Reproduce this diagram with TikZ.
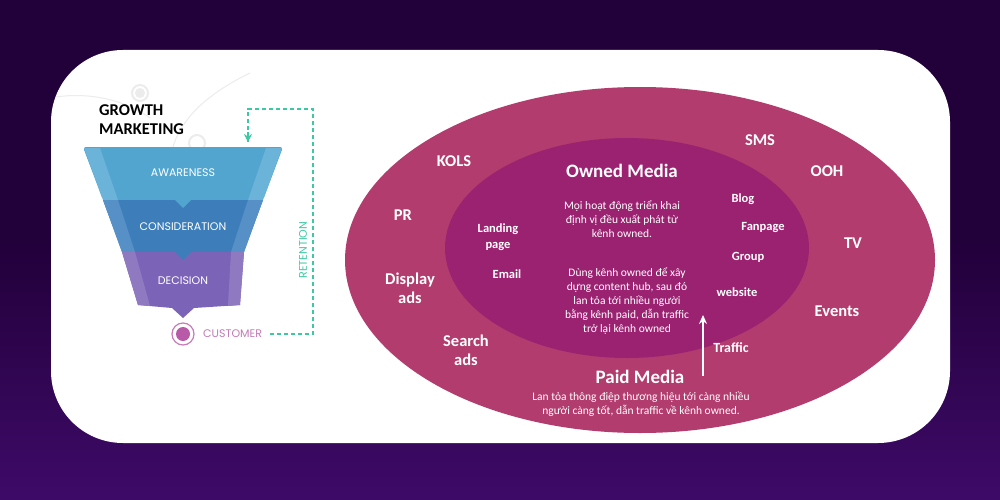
\documentclass[tikz,border=0pt]{standalone}
\usepackage{fontspec}
\setmainfont{Carlito}
\newfontfamily\pop{Poppins}
\usetikzlibrary{arrows.meta}
\definecolor{bgtop}{HTML}{22003A}
\definecolor{bgbot}{HTML}{3E0A68}
\definecolor{outerc}{HTML}{B23C6D}
\definecolor{innerc}{HTML}{9B2271}
\definecolor{awa}{HTML}{52A5CF}
\definecolor{awal}{HTML}{6BB3D9}
\definecolor{con}{HTML}{3D7EBA}
\definecolor{conl}{HTML}{5690C6}
\definecolor{dec}{HTML}{7B64B7}
\definecolor{decl}{HTML}{8F7AC1}
\definecolor{teal}{HTML}{3CC9A2}
\definecolor{cust}{HTML}{B95AA9}
\definecolor{custt}{HTML}{C27AB6}
\definecolor{deco}{HTML}{ECECEC}
\tikzset{
  lbl/.style={text=white, font=\bfseries\fontsize{16.5}{19}\selectfont, align=center, inner sep=0pt},
  ilbl/.style={text=white, font=\bfseries\fontsize{12.5}{16}\selectfont, align=center, inner sep=0pt},
  body/.style={text=white, font=\fontsize{11.5}{14}\selectfont, align=center, inner sep=0pt},
  title/.style={text=white, font=\bfseries\fontsize{19}{20}\selectfont, inner sep=0pt},
  fun/.style={text=white, font=\pop\fontsize{11}{12}\selectfont, inner sep=0pt},
  ret/.style={teal, line width=1.1pt, dash pattern=on 4pt off 3pt}
}
\begin{document}
\begin{tikzpicture}[x=1pt,y=-1pt]
\useasboundingbox (0,0) rectangle (1000,500);
\fill[bgtop] (0,0) rectangle (1000,500);
\shade[top color=bgtop, bottom color=bgbot] (0,240) rectangle (1000,500);
% card
\fill[white, rounded corners=72pt] (51,50) rectangle (950,443);
% decorative arcs
\draw[deco, line width=1pt] (250,73) .. controls (205,95) and (180,120) .. (172,150);
\draw[deco, line width=1pt] (56,97) .. controls (90,92) and (125,100) .. (150,118);
\draw[deco, line width=2pt] (140,93) circle[radius=8pt];
\fill[deco] (140,93) circle[radius=5pt];
\draw[deco, line width=2pt] (197,143) circle[radius=8pt];
% title
\node[font=\bfseries\fontsize{16.5}{19}\selectfont, text=black, anchor=west, align=left, inner sep=0pt] (gm) at (99,120) {GROWTH\\MARKETING};
% funnel
\fill[awa, rounded corners=3pt] (83,147) -- (283,147) -- (263,200) -- (103,200) -- cycle;
\fill[awal] (84,148) -- (100,148) -- (118,200) -- (103,200) -- cycle;
\fill[awal] (282,148) -- (266,148) -- (248,200) -- (263,200) -- cycle;
\fill[con] (103,200) -- (263,200) -- (244,252) -- (122,252) -- cycle;
\fill[conl] (103,200) -- (118,200) -- (135,252) -- (122,252) -- cycle;
\fill[conl] (263,200) -- (248,200) -- (231,252) -- (244,252) -- cycle;
\fill[awa] (174,199) -- (192,199) -- (183,208) -- cycle;
\fill[dec] (122,252) -- (244,252) -- (240,305) -- (194,308) -- (183,318) -- (172,308) -- (138,305) -- cycle;
\fill[decl] (122,252) -- (135,252) -- (150,306) -- (138,305) -- cycle;
\fill[decl] (244,252) -- (231,252) -- (228,306) -- (240,305) -- cycle;
\fill[con] (174,251) -- (192,251) -- (183,260) -- cycle;
\node[fun] (aw) at (183,173) {AWARENESS};
\node[fun] (co) at (183,227) {CONSIDERATION};
\node[fun] (de) at (183,281) {DECISION};
% customer
\draw[cust!80, line width=1.2pt] (183,334) circle[radius=11pt];
\fill[cust] (183,334) circle[radius=7pt];
\coordinate (cu) at (183,334);
\node[font=\pop\fontsize{11}{12}\selectfont, text=custt, anchor=west, inner sep=0pt] (custn) at (203,334) {CUSTOMER};
% retention loop
\coordinate (r1) at (313,334);
\coordinate (r2) at (313,109);
\coordinate (r3) at (248,109);
\coordinate (r4) at (248,142);
\draw[ret] ([xshift=8pt]custn.east) -- (r1) -- (r2) -- (r3) -- (r4);
\draw[teal, line width=1.1pt, -{Stealth[length=8pt,width=8pt]}] (248,132) -- (r4);
\node[text=teal, font=\pop\fontsize{11}{12}\selectfont, rotate=90, inner sep=0pt] (ret) at (303,250) {RETENTION};
% ellipses
\fill[outerc] (640,260) ellipse[x radius=295pt, y radius=173pt];
\fill[innerc] (627,248) ellipse[x radius=182pt, y radius=110pt];
% outer labels
\node[lbl] (kols) at (454,161) {KOLS};
\node[lbl] (sms) at (760,140) {SMS};
\node[lbl] (ooh) at (827,171) {OOH};
\node[lbl] (pr) at (403,215) {PR};
\node[lbl] (tv) at (853,243) {TV};
\node[lbl] (disp) at (410,288) {Display\\ads};
\node[lbl] (ev) at (837,311) {Events};
\node[lbl] (sea) at (466,350) {Search\\ads};
\node[text=white, font=\bfseries\fontsize{14}{16}\selectfont, inner sep=0pt] (tra) at (731,348) {Traffic};
\node[title] (paid) at (640,377) {Paid Media};
\node[body] (paidt) at (641,404) {Lan tỏa thông điệp thương hiệu tới càng nhiều\\người càng tốt, dẫn traffic về kênh owned.};
% inner labels
\node[title] (own) at (622,171) {Owned Media};
\node[body] (ownt1) at (622,219) {Mọi hoạt động triển khai\\định vị đều xuất phát từ\\kênh owned.};
\node[body] (ownt2) at (627,301) {Dùng kênh owned để xây\\dựng content hub, sau đó\\lan tỏa tới nhiều người\\bằng kênh paid, dẫn traffic\\trở lại kênh owned};
\node[ilbl] (land) at (498,237) {Landing\\page};
\node[ilbl] (em) at (507,274) {Email};
\node[ilbl] (blog) at (743,199) {Blog};
\node[ilbl] (fan) at (763,228) {Fanpage};
\node[ilbl] (grp) at (748,257) {Group};
\node[ilbl] (web) at (737,292) {website};
% traffic arrow
\coordinate (a0) at (703,376);
\coordinate (a1) at (703,315);
\draw[white, line width=1.6pt, -{Stealth[length=9pt,width=8pt]}] (a0) -- (a1);
\end{tikzpicture}
\end{document}
